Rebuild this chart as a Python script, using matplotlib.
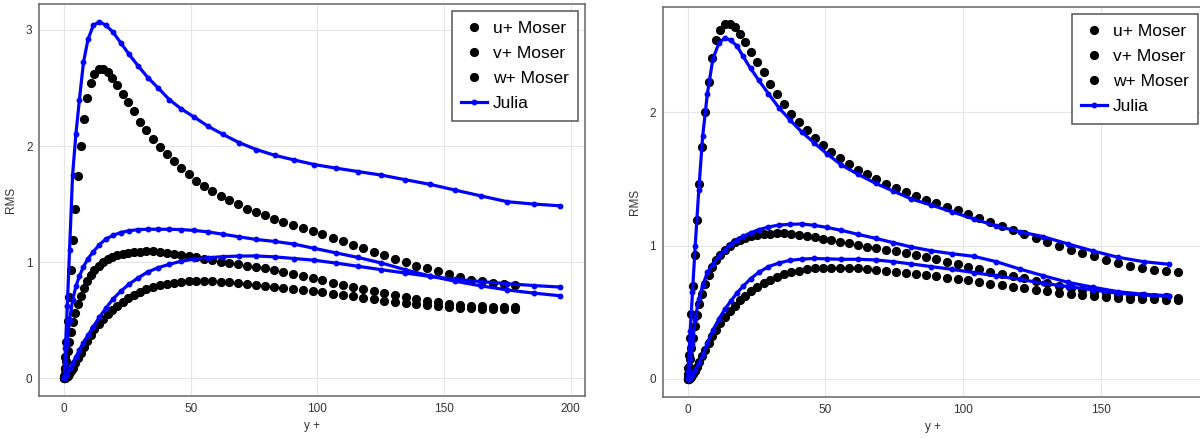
import matplotlib
matplotlib.use("Agg")
import matplotlib.pyplot as plt

plt.rcParams['font.family'] = ['Liberation Sans', 'DejaVu Sans']

# Moser DNS, Re_tau = 180 (y+ and rms values)
moser_y = [0, 0.054, 0.215, 0.483, 0.858, 1.340, 1.928, 2.622, 3.423, 4.328,
           5.338, 6.452, 7.670, 8.990, 10.41, 11.94, 13.56, 15.28, 17.10, 19.02,
           21.03, 23.14, 25.34, 27.64, 30.02, 32.49, 35.05, 37.70, 40.43, 43.25,
           46.14, 49.12, 52.17, 55.30, 58.50, 61.78, 65.12, 68.54, 72.01, 75.56,
           79.16, 82.83, 86.55, 90.33, 94.16, 98.04, 101.96, 105.94, 109.96, 114.02,
           118.11, 122.25, 126.42, 130.61, 134.84, 139.09, 143.37, 147.67, 151.99, 156.32,
           160.66, 165.02, 169.38, 173.75, 178.12]
moser_u = [0, 0.02, 0.08, 0.18, 0.31, 0.49, 0.70, 0.93, 1.19, 1.46,
           1.74, 2.00, 2.23, 2.41, 2.54, 2.62, 2.66, 2.66, 2.64, 2.59,
           2.53, 2.45, 2.38, 2.30, 2.21, 2.14, 2.06, 1.99, 1.93, 1.87,
           1.81, 1.755, 1.70, 1.655, 1.61, 1.57, 1.535, 1.50, 1.46, 1.43,
           1.405, 1.375, 1.345, 1.318, 1.29, 1.265, 1.24, 1.21, 1.18, 1.15,
           1.12, 1.085, 1.06, 1.03, 1.00, 0.97, 0.945, 0.92, 0.895, 0.87,
           0.85, 0.835, 0.82, 0.81, 0.805]
moser_v = [0, 0.0, 0.001, 0.003, 0.008, 0.018, 0.035, 0.058, 0.09, 0.13,
           0.17, 0.22, 0.27, 0.32, 0.37, 0.42, 0.465, 0.51, 0.55, 0.59,
           0.625, 0.66, 0.69, 0.72, 0.745, 0.765, 0.785, 0.80, 0.813, 0.823,
           0.83, 0.834, 0.836, 0.836, 0.834, 0.83, 0.825, 0.818, 0.81, 0.802,
           0.795, 0.788, 0.78, 0.77, 0.76, 0.75, 0.74, 0.728, 0.716, 0.704,
           0.692, 0.68, 0.668, 0.657, 0.646, 0.636, 0.627, 0.619, 0.612, 0.607,
           0.602, 0.599, 0.597, 0.596, 0.595]
moser_w = [0, 0.01, 0.04, 0.09, 0.15, 0.23, 0.31, 0.40, 0.48, 0.56,
           0.64, 0.71, 0.78, 0.84, 0.89, 0.93, 0.97, 1.00, 1.025, 1.045,
           1.06, 1.07, 1.08, 1.085, 1.09, 1.092, 1.092, 1.088, 1.082, 1.072,
           1.062, 1.05, 1.04, 1.03, 1.02, 1.005, 0.993, 0.983, 0.97, 0.958,
           0.948, 0.932, 0.917, 0.898, 0.88, 0.862, 0.843, 0.823, 0.805, 0.788,
           0.772, 0.755, 0.738, 0.72, 0.70, 0.684, 0.668, 0.655, 0.642, 0.632,
           0.625, 0.62, 0.615, 0.612, 0.61]

# Julia results, left case
julia1_y = [0, 0.5, 1.2, 2.1, 3.3, 4.6, 6.0, 7.6, 9.4, 11.5,
            13.9, 16.5, 19.3, 22.3, 25.6, 29.2, 33.0, 37.1, 41.5, 46.2,
            51.3, 56.8, 62.7, 69.0, 75.8, 83.1, 90.8, 98.8, 107.2, 116.0,
            125.1, 134.6, 144.4, 154.4, 164.6, 175.0, 185.4, 195.8]
julia1_u = [0, 0.26, 0.62, 1.10, 1.75, 2.10, 2.40, 2.72, 2.92, 3.04,
            3.07, 3.04, 2.98, 2.89, 2.79, 2.69, 2.59, 2.50, 2.40, 2.32,
            2.25, 2.17, 2.10, 2.03, 1.97, 1.92, 1.88, 1.84, 1.81, 1.78,
            1.75, 1.71, 1.67, 1.62, 1.57, 1.52, 1.50, 1.485]
julia1_v = [0, 0.01, 0.04, 0.085, 0.13, 0.18, 0.245, 0.305, 0.37, 0.445,
            0.525, 0.605, 0.683, 0.748, 0.81, 0.865, 0.915, 0.952, 0.981, 1.008,
            1.026, 1.038, 1.047, 1.052, 1.053, 1.045, 1.031, 1.016, 0.992, 0.964,
            0.935, 0.906, 0.877, 0.852, 0.832, 0.814, 0.798, 0.785]
julia1_w = [0, 0.13, 0.30, 0.50, 0.67, 0.79, 0.88, 0.96, 1.03, 1.09,
            1.15, 1.20, 1.23, 1.255, 1.27, 1.28, 1.283, 1.283, 1.283, 1.28,
            1.273, 1.26, 1.24, 1.218, 1.195, 1.178, 1.155, 1.118, 1.08, 1.04,
            0.993, 0.935, 0.88, 0.835, 0.795, 0.76, 0.733, 0.71]

# Julia results, right case
julia2_y = [0, 0.4, 1.0, 1.8, 2.8, 4.1, 5.5, 7.2, 9.2, 11.4,
            13.6, 15.7, 17.9, 20.2, 22.9, 25.9, 29.4, 33.2, 37.2, 41.4,
            45.9, 50.6, 55.9, 61.9, 68.3, 74.7, 81.3, 88.5, 95.9, 104.0,
            112.1, 120.6, 129.1, 138.2, 147.3, 156.3, 165.6, 175.0]
julia2_u = [0, 0.14, 0.36, 0.65, 1.00, 1.42, 1.82, 2.14, 2.40, 2.52,
            2.56, 2.54, 2.50, 2.42, 2.33, 2.24, 2.14, 2.035, 1.943, 1.855,
            1.773, 1.69, 1.605, 1.536, 1.468, 1.41, 1.35, 1.305, 1.255, 1.20,
            1.148, 1.105, 1.068, 1.013, 0.96, 0.913, 0.88, 0.86]
julia2_v = [0, 0.002, 0.01, 0.03, 0.065, 0.12, 0.18, 0.27, 0.365, 0.45,
            0.525, 0.583, 0.645, 0.695, 0.752, 0.80, 0.843, 0.87, 0.89, 0.899,
            0.904, 0.901, 0.898, 0.898, 0.893, 0.88, 0.863, 0.843, 0.823, 0.798,
            0.773, 0.748, 0.718, 0.693, 0.668, 0.643, 0.63, 0.62]
julia2_w = [0, 0.06, 0.15, 0.26, 0.45, 0.60, 0.70, 0.80, 0.86, 0.92,
            0.97, 1.01, 1.043, 1.07, 1.097, 1.12, 1.14, 1.155, 1.16, 1.163,
            1.153, 1.137, 1.115, 1.085, 1.055, 1.023, 0.99, 0.962, 0.94, 0.92,
            0.88, 0.825, 0.775, 0.725, 0.688, 0.655, 0.635, 0.625]

W, H = 1200, 438
fig = plt.figure(figsize=(W / 100, H / 100), dpi=100)
ax1 = fig.add_axes([39.4 / W, 42 / H, 546 / W, 392 / H])
ax2 = fig.add_axes([663 / W, 41.3 / H, 539.5 / W, 390 / H])

cases = [
    (ax1, julia1_y, julia1_u, julia1_v, julia1_w, (-9.8, 205.8), (-0.1535, 3.2235),
     [0, 50, 100, 150, 200], [0, 1, 2, 3], (0.9865, 0.982)),
    (ax2, julia2_y, julia2_u, julia2_v, julia2_w, (-8.9, 187.0), (-0.133, 2.793),
     [0, 50, 100, 150], [0, 1, 2], (0.9917, 0.981)),
]

for ax, jy, ju, jv, jw, xl, yl, xt, yt, anchor in cases:
    dot = dict(marker='o', ls='none', ms=5.6, color='black', mec='black', zorder=2)
    ax.plot(moser_y, moser_u, label='u+ Moser', **dot)
    ax.plot(moser_y, moser_v, label='v+ Moser', **dot)
    ax.plot(moser_y, moser_w, label='w+ Moser', **dot)
    line = dict(color='#0000ff', lw=2.3, marker='o', ms=3.2, zorder=3)
    ax.plot(jy, ju, label='Julia', **line)
    ax.plot(jy, jv, **line)
    ax.plot(jy, jw, **line)

    ax.set_xlim(*xl)
    ax.set_ylim(*yl)
    ax.set_xticks(xt)
    ax.set_yticks(yt)
    ax.grid(True, color='#e6e6e6', lw=0.8)
    ax.set_axisbelow(True)
    ax.tick_params(length=0, labelsize=8.5, colors='#333333', pad=5)
    for s in ax.spines.values():
        s.set_color('#666666')
        s.set_linewidth(1.1)
    ax.set_xlabel('y +', fontsize=8.5, color='#333333', labelpad=4)
    ax.set_ylabel('RMS', fontsize=8.5, color='#333333', labelpad=6)

    leg = ax.legend(loc='upper right', bbox_to_anchor=anchor, borderaxespad=0,
                    fontsize=12.5, fancybox=False, framealpha=1, edgecolor='#555555',
                    handlelength=1.5, handletextpad=0.3, labelspacing=0.58,
                    borderpad=0.55)
    leg.get_frame().set_linewidth(1.1)

fig.savefig('out.png', dpi=100)
